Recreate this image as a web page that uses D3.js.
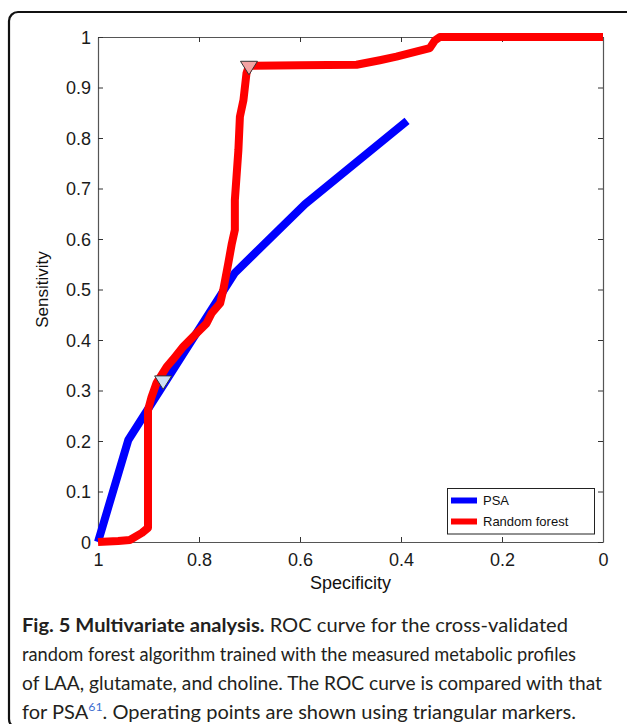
<!DOCTYPE html>
<html>
<head>
<meta charset="utf-8">
<script src="https://cdn.jsdelivr.net/npm/d3@7"></script>
<style>
  html, body { margin: 0; padding: 0; background: #fff; }
  svg { display: block; }
  .tick text { font-family: "Liberation Sans", Arial, sans-serif; font-size: 18px; fill: #1a1a1a; }
</style>
</head>
<body>
<svg id="chart" width="627" height="724"></svg>
<script>
// ROC curves (x = specificity, y = sensitivity)
const psaSpec = [1, 0.94, 0.729, 0.59, 0.388];
const psaSens = [0, 0.202, 0.533, 0.669, 0.834];

const rfSpec = [1, 0.96, 0.937, 0.913, 0.901, 0.901, 0.894, 0.884, 0.864, 0.851, 0.831, 0.805, 0.785, 0.775, 0.758, 0.752, 0.742, 0.735, 0.729, 0.729, 0.722, 0.719, 0.712, 0.706, 0.701, 0.6, 0.488, 0.442, 0.409, 0.382, 0.343, 0.333, 0.323, 0];
const rfSens = [0, 0.002, 0.004, 0.018, 0.028, 0.261, 0.287, 0.315, 0.347, 0.362, 0.387, 0.413, 0.433, 0.453, 0.473, 0.499, 0.552, 0.591, 0.618, 0.677, 0.776, 0.842, 0.875, 0.928, 0.943, 0.944, 0.945, 0.954, 0.961, 0.968, 0.978, 0.993, 1, 1];

// operating points
const opSpec = [0.871, 0.701];
const opSens = [0.320, 0.943];
const opFill = ["#cfe0f4", "#f4a3a3"];

const seriesNames = ["PSA", "Random forest"];
const seriesColors = ["#0000ff", "#ff0000"];

const xTicks = [1, 0.8, 0.6, 0.4, 0.2, 0];
const yTicks = [0, 0.1, 0.2, 0.3, 0.4, 0.5, 0.6, 0.7, 0.8, 0.9, 1];

const svg = d3.select("#chart");

// rounded frame around figure + caption
svg.append("rect")
  .attr("x", 9).attr("y", 12).attr("width", 640).attr("height", 716)
  .attr("rx", 9).attr("fill", "none").attr("stroke", "#111").attr("stroke-width", 2.2);

const plotL = 98, plotR = 603, plotT = 37, plotB = 542;
const x = d3.scaleLinear().domain([1, 0]).range([plotL, plotR]);
const y = d3.scaleLinear().domain([0, 1]).range([plotB, plotT]);

const fmt = (d) => String(d);

// axes, matlab style: ticks inward on all four sides
const gx = svg.append("g").attr("transform", `translate(0,${plotB})`)
  .call(d3.axisBottom(x).tickValues(xTicks).tickFormat(fmt).tickSizeInner(-5).tickSizeOuter(0).tickPadding(8));
const gxTop = svg.append("g").attr("transform", `translate(0,${plotT})`)
  .call(d3.axisTop(x).tickValues(xTicks).tickFormat("").tickSizeInner(-5).tickSizeOuter(0));
const gy = svg.append("g").attr("transform", `translate(${plotL},0)`)
  .call(d3.axisLeft(y).tickValues(yTicks).tickFormat(fmt).tickSizeInner(-5).tickSizeOuter(0).tickPadding(7));
const gyRight = svg.append("g").attr("transform", `translate(${plotR},0)`)
  .call(d3.axisRight(y).tickValues(yTicks).tickFormat("").tickSizeInner(-5).tickSizeOuter(0));

[gx, gxTop, gy, gyRight].forEach((g) => {
  g.select(".domain").attr("stroke", "#555").attr("stroke-width", 1.2);
  g.selectAll(".tick line").attr("stroke", "#333").attr("stroke-width", 1);
});
gx.selectAll(".tick text").attr("dy", "0.9em");
gy.selectAll(".tick text").attr("dy", "0.35em");

svg.append("text")
  .attr("x", (plotL + plotR) / 2).attr("y", 589)
  .attr("text-anchor", "middle")
  .style("font-family", "Liberation Sans, Arial, sans-serif").style("font-size", "18px").attr("fill", "#111")
  .text("Specificity");
svg.append("text")
  .attr("transform", `translate(48,${(plotT + plotB) / 2}) rotate(-90)`)
  .attr("text-anchor", "middle")
  .style("font-family", "Liberation Sans, Arial, sans-serif").style("font-size", "17px").attr("fill", "#111")
  .text("Sensitivity");

const line = d3.line().x((d) => x(d[0])).y((d) => y(d[1]));

const psa = psaSpec.map((s, i) => [s, psaSens[i]]);
const rf = rfSpec.map((s, i) => [s, rfSens[i]]);

svg.append("path").datum(psa).attr("d", line)
  .attr("fill", "none").attr("stroke", seriesColors[0]).attr("stroke-width", 8).attr("stroke-linejoin", "round");
svg.append("path").datum(rf).attr("d", line)
  .attr("fill", "none").attr("stroke", seriesColors[1]).attr("stroke-width", 8).attr("stroke-linejoin", "round");

// downward triangle markers
const tri = (cx, cy) => {
  const w = 8.5, h = 13.5;
  return `M${cx - w},${cy - h / 3}L${cx + w},${cy - h / 3}L${cx},${cy + 2 * h / 3}Z`;
};
svg.append("g").selectAll("path").data(opSpec).join("path")
  .attr("d", (d, i) => tri(x(d), y(opSens[i])))
  .attr("fill", (d, i) => opFill[i]).attr("stroke", "#333").attr("stroke-width", 1);

// legend
const lg = svg.append("g");
lg.append("rect").attr("x", 447.5).attr("y", 488.5).attr("width", 147).attr("height", 45.5)
  .attr("fill", "#fff").attr("stroke", "#222").attr("stroke-width", 1);
seriesNames.forEach((name, i) => {
  const ly = 500.5 + i * 21;
  lg.append("line").attr("x1", 451).attr("x2", 477).attr("y1", ly).attr("y2", ly)
    .attr("stroke", seriesColors[i]).attr("stroke-width", 6);
  lg.append("text").attr("x", 483).attr("y", ly + 4.5)
    .style("font-family", "Liberation Sans, Arial, sans-serif").style("font-size", "13px").attr("fill", "#111")
    .text(name);
});

// caption; each line fitted to the width it has in the figure
const capLines = [
  [{ t: "Fig. 5 Multivariate analysis.", b: true }, { t: " ROC curve for the cross-validated" }],
  [{ t: "random forest algorithm trained with the measured metabolic profiles" }],
  [{ t: "of LAA, glutamate, and choline. The ROC curve is compared with that" }],
  [{ t: "for PSA" }, { t: "61", sup: true }, { t: ". Operating points are shown using triangular markers.", down: true }]
];
const capWidths = [546, 554, 580, 554];
const cap = svg.append("g")
  .style("font-family", "Lato, Open Sans, sans-serif").style("font-size", "19.5px").attr("fill", "#231f20");
capLines.forEach((parts, i) => {
  const t = cap.append("text").attr("x", 22).attr("y", 632 + i * 29)
    .attr("textLength", capWidths[i]).attr("lengthAdjust", "spacingAndGlyphs");
  parts.forEach((p) => {
    const ts = t.append("tspan").text(p.t);
    if (p.b) ts.style("font-weight", "bold");
    if (p.sup) ts.attr("fill", "#3d6fd0").style("font-size", "12px").attr("dy", "-8");
    if (p.down) ts.attr("dy", "8");
  });
});
</script>
</body>
</html>
